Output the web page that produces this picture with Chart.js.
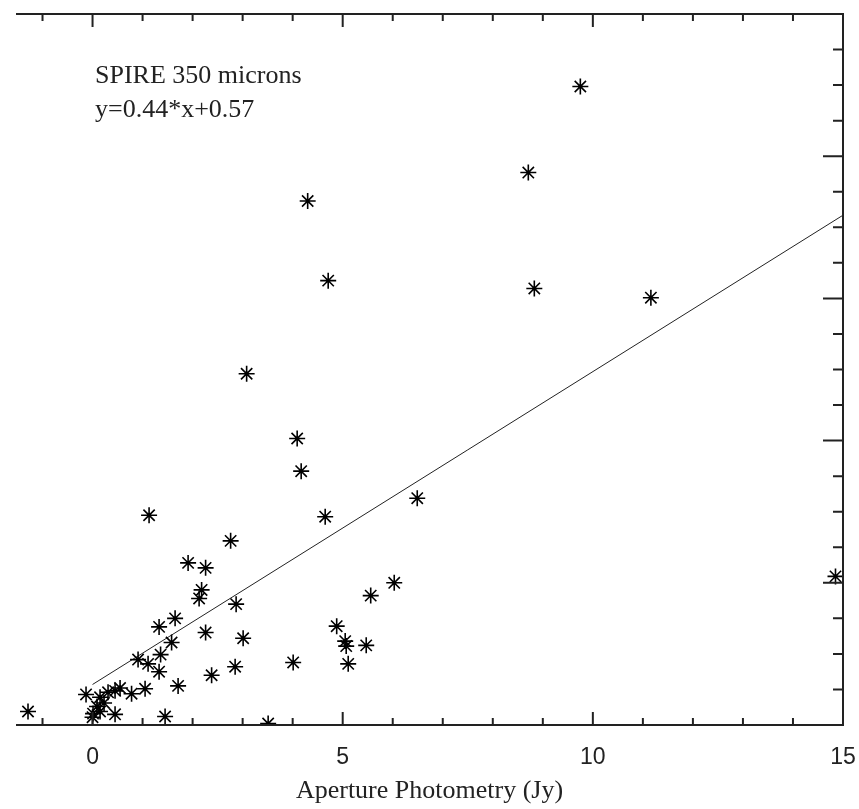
<!DOCTYPE html>
<html>
<head>
<meta charset="utf-8">
<title>SPIRE 350 microns</title>
<script src="https://cdn.jsdelivr.net/npm/chart.js@4/dist/chart.umd.min.js"></script>
<style>
  html, body { margin: 0; padding: 0; background: #fff; }
  #wrap { width: 859px; height: 809px; position: relative; }
</style>
</head>
<body>
<div id="wrap"><canvas id="fluxChart"></canvas></div>
<script>
// ===== data =====
const xValues = [9.75, 8.71, 4.30, 4.71, 8.83, 11.16, 3.08, 4.09, 4.17, 6.49,
                 4.65, 1.13, 2.76, 1.91, 2.26, 2.18, 2.13, 2.87, 6.03, 5.56,
                 14.85, 1.65, 1.33, 2.26, 3.01, 1.58, 4.88, 5.05, 5.07, 5.47,
                 5.11, 4.01, 2.85, 1.36, 0.91, 1.11, 1.33, 2.38, 1.71, 1.05,
                 0.78, 0.45, 0.31, 0.15, -0.13, 0.09, 0.01, 0.15, 0.45, 1.45,
                 3.51, -1.29, 0.00, 0.23, 0.55];
const yValues = [8.98, 7.77, 7.37, 6.25, 6.14, 6.01, 4.94, 4.03, 3.57, 3.19,
                 2.93, 2.95, 2.59, 2.28, 2.21, 1.90, 1.78, 1.70, 2.00, 1.82,
                 2.09, 1.50, 1.38, 1.30, 1.22, 1.16, 1.39, 1.18, 1.11, 1.12,
                 0.86, 0.88, 0.82, 0.99, 0.92, 0.86, 0.75, 0.70, 0.55, 0.51,
                 0.44, 0.48, 0.46, 0.39, 0.43, 0.26, 0.16, 0.19, 0.15, 0.12,
                 0.02, 0.19, 0.11, 0.31, 0.52];

// fit line y = a*x + b, drawn over the measured range
const fitSlope = 0.44;
const fitIntercept = 0.57;
const fitRange = [0, 15];

const xTickLabels = [0, 5, 10, 15];
const annotationLines = ['SPIRE 350 microns', 'y=0.44*x+0.57'];

const axisColor = '#222';

// ===== frame with inward ticks (IDL style) =====
const framePlugin = {
    id: 'frame',
    afterDatasetsDraw(chart) {
        const {ctx, chartArea: a, scales: {x, y}} = chart;
        ctx.save();
        ctx.strokeStyle = axisColor;
        ctx.lineWidth = 2;
        ctx.beginPath();
        ctx.moveTo(a.left, a.top);
        ctx.lineTo(a.right, a.top);
        ctx.lineTo(a.right, a.bottom);
        ctx.lineTo(a.left, a.bottom);
        ctx.stroke();

        ctx.beginPath();
        for (let v = -1; v <= 15; v++) {
            const px = x.getPixelForValue(v);
            const len = v % 5 === 0 ? 13 : 7;
            ctx.moveTo(px, a.bottom); ctx.lineTo(px, a.bottom - len);
            ctx.moveTo(px, a.top); ctx.lineTo(px, a.top + len);
        }
        for (let i = 1; i < 20; i++) {
            const v = i * 0.5;
            const py = y.getPixelForValue(v);
            const len = i % 4 === 0 ? 20 : 10;
            ctx.moveTo(a.right, py); ctx.lineTo(a.right - len, py);
        }
        ctx.stroke();

        // label in the upper left corner
        ctx.fillStyle = '#222';
        ctx.font = '26px "Liberation Serif", "Times New Roman", serif';
        ctx.textBaseline = 'alphabetic';
        annotationLines.forEach((t, i) => {
            ctx.fillText(t, a.left + 79, a.top + 69 + i * 34);
        });
        ctx.restore();
    }
};

const ctx = document.getElementById('fluxChart').getContext('2d');
window.fluxChart = new Chart(ctx, {
    type: 'scatter',
    data: {
        datasets: [
            {
                label: 'SPIRE 350',
                data: xValues.map((v, i) => ({x: v, y: yValues[i]})),
                pointStyle: 'star',
                pointRadius: 8,
                pointHoverRadius: 8,
                borderColor: '#000',
                backgroundColor: '#000',
                pointBorderWidth: 1.6,
                clip: 0
            },
            {
                label: 'fit',
                type: 'line',
                data: fitRange.map(v => ({x: v, y: fitSlope * v + fitIntercept})),
                borderColor: '#222',
                borderWidth: 1,
                pointRadius: 0,
                fill: false
            }
        ]
    },
    options: {
        responsive: true,
        maintainAspectRatio: false,
        animation: false,
        layout: { padding: { left: 16, top: 14, right: 16, bottom: 0 } },
        plugins: {
            legend: { display: false },
            tooltip: { enabled: false }
        },
        scales: {
            x: {
                type: 'linear',
                min: -1.53,
                max: 15,
                afterBuildTicks: s => { s.ticks = xTickLabels.map(v => ({value: v})); },
                afterFit: s => { s.height = 84; s.paddingLeft = 0; s.paddingRight = 0; },
                grid: { display: false, drawTicks: false },
                border: { display: false },
                ticks: {
                    color: '#222',
                    padding: 19,
                    maxRotation: 0,
                    font: { family: '"Liberation Sans", Arial, sans-serif', size: 23 }
                },
                title: {
                    display: true,
                    text: 'Aperture Photometry (Jy)',
                    color: '#222',
                    padding: { top: 0, bottom: 2 },
                    font: { family: '"Liberation Serif", "Times New Roman", serif', size: 26 }
                }
            },
            y: {
                type: 'linear',
                min: 0,
                max: 10,
                display: false
            }
        }
    },
    plugins: [framePlugin]
});
</script>
</body>
</html>
